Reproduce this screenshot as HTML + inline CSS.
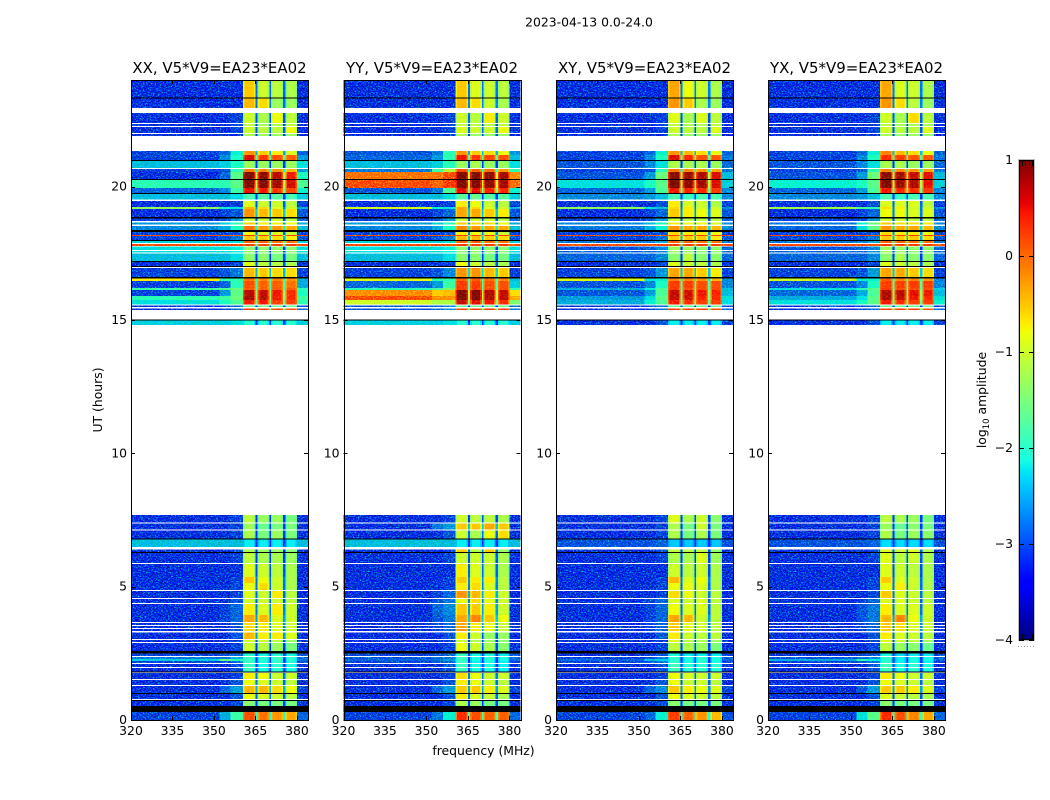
<!DOCTYPE html>
<html lang="en">
<head>
<meta charset="utf-8">
<title>2023-04-13 0.0-24.0</title>
<style>
  html,body{margin:0;padding:0;background:#fff;width:1050px;height:800px;overflow:hidden}
  svg{display:block}
  text{font-family:"DejaVu Sans","Liberation Sans",sans-serif;fill:#000}
  .tick{font-size:12.4px}
  .title{font-size:14.95px}
  .label{font-size:12.4px}
</style>
</head>
<body>
<svg id="chart" width="1050" height="800" viewBox="0 0 1050 800" xmlns="http://www.w3.org/2000/svg">
  <defs>
    <filter id="speckle" filterUnits="userSpaceOnUse" x="0" y="0" width="1050" height="800" color-interpolation-filters="sRGB">
      <feTurbulence type="fractalNoise" baseFrequency="0.6 0.8" numOctaves="2" seed="7" result="t"/>
      <feColorMatrix in="t" type="matrix" values="0 0 0 0 0  2.4 0 0 0 -1.12  0 0 0 0 0  0 0 0 0 1" result="g"/>
      <feColorMatrix in="t" type="matrix" values="0 0 0 0 1  0 0 0 0 1  0 -1.4 0 0 1.6  0 0 0 0 1" result="b"/>
      <feBlend in="SourceGraphic" in2="g" mode="screen" result="a"/>
      <feBlend in="a" in2="b" mode="multiply" result="c"/>
      <feComposite in="c" in2="SourceAlpha" operator="in"/>
    </filter>
    <filter id="speckle-soft" filterUnits="userSpaceOnUse" x="0" y="0" width="1050" height="800" color-interpolation-filters="sRGB">
      <feTurbulence type="fractalNoise" baseFrequency="0.5 0.7" numOctaves="2" seed="21" result="t"/>
      <feColorMatrix in="t" type="matrix" values="0 0 0 0 0  0.9 0 0 0 -0.42  0 0 0 0 0  0 0 0 0 1" result="g"/>
      <feBlend in="SourceGraphic" in2="g" mode="screen" result="a"/>
      <feComposite in="a" in2="SourceAlpha" operator="in"/>
    </filter>
    <linearGradient id="jet-gradient" x1="0" y1="1" x2="0" y2="0"></linearGradient>
  </defs>
  <rect x="0" y="0" width="1050" height="800" fill="#fff"/>
  <text x="589" y="26.5" text-anchor="middle" font-size="12.4">2023-04-13 0.0-24.0</text>
  <text class="label" text-anchor="middle" transform="translate(102,400) rotate(-90)">UT (hours)</text>
  <text class="label" x="483.5" y="755" text-anchor="middle">frequency (MHz)</text>
  <text class="label" text-anchor="middle" transform="translate(986,400) rotate(-90)">log<tspan font-size="8.5" dy="3">10</tspan><tspan dy="-3"> amplitude</tspan></text>
  <g id="panels"></g>
  <g id="colorbar"></g>
</svg>
<script>
// ---- chart data ----
const panelTitles = ["XX, V5*V9=EA23*EA02", "YY, V5*V9=EA23*EA02", "XY, V5*V9=EA23*EA02", "YX, V5*V9=EA23*EA02"];
const freqTicks = [320, 335, 350, 365, 380];
const hourTicks = [0, 5, 10, 15, 20];
const colorbarTicks = [1, 0, -1, -2, -3, -4];
// frequency boundaries in MHz: left, mid, ramp, band1, gap, band2, gap, band3, gap, band4, right
const freqEdges = [320, 352, 356, 360.5, 365, 365.8, 370, 370.6, 375, 375.8, 380, 384];
// UT hours [start, end] of every unflagged time range; gaps between these are blank (white)
const rowSpans = [[24,23.34],[23.31,22.95],[22.76,22.39],[22.35,22.28],[22.24,22.01],[21.98,21.9],[21.34,21.19],[21.19,21],[20.96,20.7],[20.66,20.55],[20.55,20.29],[20.25,19.95],[19.95,19.76],[19.73,19.52],[19.46,19.24],[19.24,19.16],[19.16,18.86],[18.81,18.71],[18.66,18.58],[18.53,18.38],[18.3,18.19],[18.19,18.15],[18.15,18],[17.96,17.89],[17.85,17.77],[17.76,17.63],[17.59,17.53],[17.49,17.21],[17.18,17.03],[16.95,16.61],[16.56,16.46],[16.46,16.2],[16.2,16.13],[16.13,15.9],[15.9,15.75],[15.75,15.58],[15.54,15.49],[15.43,15.38],[14.98,14.81],[7.69,7.41],[7.37,7.14],[7.11,6.81],[6.77,6.49],[6.39,6.3],[6.26,5.89],[5.85,5.36],[5.36,5.14],[5.14,4.88],[4.84,4.58],[4.54,4.39],[4.35,3.94],[3.94,3.68],[3.64,3.56],[3.53,3.45],[3.41,3.34],[3.28,3.04],[3,2.93],[2.89,2.59],[2.49,2.4],[2.36,2.29],[2.29,2.21],[2.21,2.14],[2.1,1.99],[1.95,1.82],[1.76,1.54],[1.5,1.31],[1.28,1.01],[0.98,0.79],[0.71,0.53],[0.3,0]];
// UT hours [start, end] of rows that are fully black
const blackSpans = [[23.34,23.31],[21,20.96],[20.29,20.25],[19.76,19.73],[18.86,18.81],[18.38,18.3],[18,17.96],[17.21,17.18],[17.03,16.99],[16.61,16.56],[15.02,14.98],[6.81,6.77],[6.3,6.26],[2.59,2.49],[1.82,1.78],[1.01,0.98],[0.75,0.71],[0.53,0.3]];
// log10 amplitude per row: [left, mid, ramp, band1, band2, band3, band4, right]
const xxLevels = [[-3.3,-3.3,-3.3,-.5,-1,-1.1,-1.2,-3.3],[-3.3,-3.3,-3.3,-.4,-.6,-1.3,-1.3,-3.3],[-3.3,-3.3,-3.2,-1,-1.2,-.8,-1.1,-3.3],[-3.3,-3.3,-3.2,-1.1,-1.2,-1.2,-1.1,-3.3],[-3.3,-3.3,-3.2,-1,-1.1,-1.1,-.8,-3.3],[-3.3,-3.3,-3.3,-1.2,-1.3,-1.3,-1.3,-3.3],[-3.2,-3,-2.2,-.2,-.5,-.7,-.9,-3],[-3.2,-2.8,-2.1,.6,.35,.2,.1,-2.7],[-2.5,-2.4,-2.1,-1.3,-1.3,-1.3,-1.3,-2.3],[-3.2,-3.1,-2,-.1,-.1,-.2,-.4,-2.7],[-3.3,-3,-1.7,1,.95,.75,.5,-2.1],[-2,-2,-1.7,1,1,.85,.65,-1.8],[-3,-2.8,-1.9,.55,.5,.35,.25,-2.2],[-2.5,-2.5,-2.3,-1.8,-1.7,-1.7,-1.8,-2.4],[-3.3,-3.3,-3.2,-.9,-1,-1,-1.1,-3.2],[-1.4,-2.2,-2.3,-.4,-.6,-.9,-1,-2.6],[-3.3,-3.2,-3.1,-.2,-.4,-.5,-.6,-3.1],[-3.2,-3.1,-2.7,-1,-1,-1,-1.1,-3],[-2.7,-2.4,-2,-.5,-.7,-.7,-.8,-2.6],[-2.8,-2.6,-2.1,0,-.2,-.2,-.3,-2.5],[-3.2,-3.2,-3.1,-.8,-.9,-.9,-1,-3.2],[.3,.3,.3,.3,.3,.3,.3,.3],[-3.2,-3.1,-2.9,-.5,-.5,-.6,-.7,-3.1],[-2.4,-2.4,-2.3,.1,.1,0,0,-2.4],[.3,.3,.3,.3,.3,.3,.3,.3],[-2.3,-2.3,-2.2,-1.4,-1.4,-1.4,-1.4,-2.3],[-2.3,-2.3,-2.2,-1.4,-1.4,-1.4,-1.4,-2.3],[-2.5,-2.5,-2.3,-1.4,-1.4,-1.5,-1.5,-2.5],[-3.3,-3.3,-3.2,-.9,-1.1,-1.1,-1.2,-3.3],[-3.2,-3.1,-2.9,-.4,-.5,-.6,-.6,-3.2],[-.7,-2,-2,0,-.1,-.1,-.2,-2.6],[-3.2,-3,-2,.2,.1,.1,0,-2.6],[-1.9,-1.8,-1.6,.1,.1,.1,.1,-2],[-3.2,-2.7,-1.7,.75,.7,.5,.4,-2.1],[-2,-1.9,-1.6,.85,.75,.5,.4,-1.9],[-2.3,-2.1,-1.8,.5,.5,.3,.3,-2],[-3.3,-3.2,-3,-1.6,-1.6,-1.6,-1.6,-3.2],[-3.3,-3.2,-3,.3,.3,.3,.2,-3],[-2.4,-2.4,-2.3,-2,-2,-2,-2,-2.4],[-3.3,-3.3,-3.2,-1.1,-1.3,-1.3,-1.5,-3.3],[-3.3,-3.3,-3.2,-1.3,-1.6,-1.5,-1.5,-3.3],[-3.3,-3.3,-3.2,-1.2,-1.5,-1.3,-1.5,-3.3],[-2.5,-2.5,-2.5,-2.2,-2.2,-2.2,-2.2,-2.5],[-3.3,-3.3,-3.2,-1.2,-1.3,-1.3,-1.4,-3.3],[-3.3,-3.3,-3.2,-1.1,-1.2,-1.2,-1.3,-3.3],[-3.3,-3.3,-3.3,-.9,-1,-1.1,-1.2,-3.3],[-3.3,-3.3,-3.2,-.5,-.8,-1,-1.2,-3.3],[-3.3,-3.3,-3.2,-.8,-.6,-1,-1.2,-3.3],[-3.3,-3.3,-3.2,-.9,-1,-.7,-1.1,-3.3],[-3.3,-3.3,-3.1,-1,-1,-1,-1.1,-3.3],[-3.3,-3.2,-3,-.7,-.9,-.7,-1,-3.3],[-3.3,-3.2,-3,-.3,-.4,-.9,-1,-3.3],[-3.3,-3.3,-3.1,-.6,-.7,-.9,-1,-3.3],[-3.3,-3.3,-3.1,-.6,-.7,-.9,-1,-3.3],[-3.3,-3.3,-3.1,-.6,-.7,-.9,-1,-3.3],[-3.3,-3.3,-3.1,-.4,-.7,-.7,-.9,-3.3],[-3.3,-3.3,-3.2,-.9,-1,-1.1,-1.3,-3.3],[-3.3,-3.3,-3.2,-1,-1.1,-1.3,-1.5,-3.3],[-3.2,-3.1,-3,-2,-2.1,-2,-2.1,-3.1],[-2.9,-2.9,-2.6,-1.9,-2,-1.9,-2,-3],[-2.4,-1.6,-2,-1.9,-2,-1.9,-2,-2.9],[-3.2,-3.1,-3,-1.9,-2.1,-2,-2.1,-3.2],[-3.3,-3.3,-3.1,-1.9,-2.1,-2,-2.1,-3.3],[-3.3,-3.3,-3.1,-1.9,-2.1,-2,-2.1,-3.3],[-3.3,-3.3,-3.2,-.7,-.8,-1,-1,-3.3],[-3.3,-3.3,-3.1,-.8,-.9,-1,-1.1,-3.3],[-3.3,-3,-2.7,-.4,-.4,-.6,-.8,-3.2],[-3.3,-3.3,-3.1,-.8,-.9,-1,-1.1,-3.3],[-3.3,-3.3,-3.2,-1.4,-1.5,-1.5,-1.5,-3.3],[-3.2,-2.6,-1.9,.2,0,-.2,-.3,-3]];
const yyLevels = [[-3.3,-3.3,-3.3,-.5,-.9,-1,-1.1,-3.3],[-3.3,-3.3,-3.3,-.4,-.6,-1,-1.2,-3.3],[-3.3,-3.3,-3.2,-1,-1.1,-.7,-1,-3.3],[-3.3,-3.3,-3.2,-1.1,-1.1,-1.1,-1.1,-3.3],[-3.3,-3.3,-3.2,-.9,-1,-1,-.8,-3.3],[-3.3,-3.3,-3.3,-1.2,-1.3,-1.3,-1.3,-3.3],[-3.1,-2.9,-2,-.2,-.5,-.6,-.8,-2.7],[-3,-2.7,-2,.5,.35,.25,.2,-2.5],[-2.5,-2.4,-2,-1.3,-1.2,-1.3,-1.3,-2.3],[-2.9,-1.9,-1.2,.2,.1,0,-.2,-2],[.05,.05,.3,1,1,.95,.85,-.1],[.3,.15,.4,1,1,.95,.85,.1],[-3.1,-2.9,-1.8,.55,.55,.45,.45,-2.2],[-2.5,-2.5,-2.3,-1.7,-1.6,-1.7,-1.7,-2.4],[-3.3,-3.3,-3.2,-.7,-.8,-1,-1.1,-3.2],[-1,-2.2,-2.3,-.3,-.6,-.9,-1,-2.6],[-3.3,-3.2,-3,-.3,-.3,-.5,-.7,-3.1],[-3.2,-3.1,-2.7,-1,-1,-1,-1.1,-3],[-2.7,-2.4,-2,-.5,-.6,-.6,-.8,-2.6],[-2.8,-2.6,-2.1,-.1,-.2,-.3,-.3,-2.5],[-3.2,-3.2,-3.1,-.7,-.8,-.8,-1,-3.2],[.3,.3,.3,.3,.3,.3,.3,.3],[-3.2,-3.1,-2.9,-.4,-.4,-.5,-.6,-3.1],[-2.4,-2.4,-2.3,.1,.1,0,0,-2.4],[.3,.3,.3,.3,.3,.3,.3,.3],[-2.3,-2.3,-2.2,-1.4,-1.4,-1.4,-1.4,-2.3],[-2.3,-2.3,-2.2,-1.4,-1.4,-1.4,-1.4,-2.3],[-2.5,-2.5,-2.3,-1.4,-1.4,-1.5,-1.5,-2.5],[-3.3,-3.3,-3.2,-.8,-1,-1.1,-1.2,-3.3],[-3.2,-3.1,-2.8,-.2,-.2,-.4,-.5,-3.2],[-.9,-2,-2,.1,.1,0,-.1,-2.5],[-3,-2.7,-1.9,.3,.3,.2,.2,-2.4],[-2,-1.8,-1.5,.3,.3,.2,.2,-1.9],[-.1,-.5,-.4,1,1,.8,.7,-.6],[.3,-.1,-.1,1,1,.8,.7,-.3],[-1,-1.2,-1.2,.7,.6,.5,.4,-1.5],[-3.1,-3,-2.8,-1.6,-1.6,-1.6,-1.6,-3],[-3.1,-3,-2.8,.3,.3,.3,.3,-2.9],[-2.4,-2.4,-2.3,-2,-2,-2,-2,-2.4],[-3.3,-3.3,-3.2,-1,-1.1,-1.1,-1.2,-3.3],[-3.3,-2.9,-2.7,-.5,-.5,-.3,-.5,-3.3],[-3.3,-3.3,-3.1,-1,-1.2,-.8,-.6,-3.3],[-2.5,-2.5,-2.5,-2.2,-2.2,-2.2,-2.2,-2.5],[-3.3,-3.3,-3.2,-.5,-1.2,-.5,-1.3,-3.3],[-3.3,-3.3,-3.2,-1,-1,-1,-1.2,-3.3],[-3.3,-3.3,-3.3,-.7,-.9,-1,-1.2,-3.3],[-3.3,-3.3,-3.2,-.5,-.7,-.7,-1.1,-3.3],[-3.3,-3.3,-3.2,-.7,-.6,-.9,-1.1,-3.3],[-3.3,-3.2,-3,-.2,-.4,-.7,-1,-3.3],[-3.3,-3.1,-2.9,-.8,-.6,-.8,-1,-3.3],[-3.3,-3,-2.8,-.5,-.5,-.7,-1,-3.3],[-3.3,-3.1,-2.9,-.3,-.1,-.5,-.8,-3.3],[-3.3,-3.2,-3,-.3,-.7,-.8,-1,-3.3],[-3.3,-3.2,-3,-.3,-.7,-.8,-1,-3.3],[-3.3,-3.2,-3,-.2,-.7,-.8,-1,-3.3],[-3.3,-3.3,-3.1,-.7,-1,-1.3,-1.3,-3.3],[-3.3,-3.3,-3.2,-1,-1.2,-1.3,-1.4,-3.3],[-3.3,-3.3,-3.2,-.8,-1,-1.2,-1.4,-3.3],[-3.2,-3.1,-3,-1.9,-2.1,-2.1,-2.2,-3.1],[-3.1,-3,-2.9,-1.9,-2.1,-2,-2.1,-3],[-3,-2.9,-2.7,-1.9,-2.1,-2,-2.1,-3],[-3.2,-3.1,-3,-1.9,-2.2,-2.1,-2.2,-3.2],[-3.3,-3.3,-3.1,-1.9,-2.1,-2.1,-2.2,-3.3],[-3.3,-3.3,-3.1,-1.9,-2.1,-2.1,-2.2,-3.3],[-3.3,-3.3,-3.2,-.6,-.8,-1,-1,-3.3],[-3.3,-3.3,-3.1,-.7,-.8,-1,-1.1,-3.3],[-3.3,-3,-2.7,-.5,-.5,-.7,-.9,-3.2],[-3.3,-3.3,-3.1,-.7,-.9,-1,-1.2,-3.3],[-3.3,-3.3,-3.2,-1.2,-1.3,-1.5,-1.5,-3.3],[-3.2,-2.9,-2.2,.4,.2,.1,.1,-3]];
const xyLevels = [[-3.3,-3.3,-3.3,-.3,-.8,-1,-1.2,-3.3],[-3.3,-3.3,-3.3,-.2,-.5,-1.2,-1.3,-3.3],[-3.3,-3.3,-3.2,-.9,-1.2,-.9,-1.1,-3.3],[-3.3,-3.3,-3.2,-1.1,-1.2,-1.2,-1.1,-3.3],[-3.3,-3.3,-3.2,-1,-1.1,-1.1,-.9,-3.3],[-3.3,-3.3,-3.3,-1.2,-1.3,-1.3,-1.3,-3.3],[-3.2,-3,-2.2,-.2,-.4,-.6,-.8,-3],[-3.2,-2.8,-2.1,.6,.4,.2,.15,-2.9],[-3.1,-2.8,-2.3,-1.2,-1.2,-1.2,-1.3,-3],[-3.2,-3.1,-2,0,-.1,-.2,-.3,-2.9],[-3.1,-2.7,-1.6,.95,.9,.8,.6,-2.5],[-2.3,-2.1,-1.7,1,.95,.85,.6,-2.4],[-3,-2.7,-1.8,.5,.45,.4,.3,-2.8],[-2.8,-2.7,-2.5,-1.8,-1.9,-1.8,-1.8,-2.8],[-3.3,-3.3,-3.1,-.7,-.9,-1,-1.2,-3.2],[-1.4,-2.3,-2.5,-.6,-.7,-1,-1,-2.8],[-3.3,-3.2,-3,-.5,-.7,-.8,-.9,-3.1],[-3.2,-3.1,-2.7,-1,-1.1,-1.1,-1.1,-3],[-2.8,-2.5,-2.1,-.7,-.8,-.8,-.9,-2.8],[-2.9,-2.6,-2.2,-.2,-.3,-.3,-.4,-2.8],[-3.2,-3.2,-3.1,-.6,-.7,-.7,-.8,-3.2],[.3,.3,.3,.3,.3,.3,.3,.3],[-3.2,-3.1,-2.9,-.5,-.5,-.5,-.7,-3.1],[-2.9,-2.8,-2.6,.1,.1,0,0,-2.9],[.3,.3,.3,.3,.3,.3,.3,.3],[-3.1,-3,-2.8,-1.3,-1.3,-1.4,-1.4,-3],[-3,-3,-2.8,-1.3,-1.3,-1.4,-1.4,-3],[-3,-3,-2.8,-1.4,-1.1,-1.4,-1.4,-3],[-3.3,-3.3,-3.2,-.9,-1,-1.1,-1.2,-3.3],[-3.2,-3.1,-2.7,-.3,-.3,-.5,-.7,-3.2],[-.9,-2.3,-2.2,-.1,-.1,-.2,-.4,-2.8],[-3.1,-2.8,-2.1,.3,.3,.2,.2,-2.8],[-2.6,-2.2,-1.8,.3,.2,.2,.2,-2.5],[-3.1,-2.7,-1.8,.7,.65,.5,.45,-2.5],[-2.7,-2.3,-1.7,.7,.65,.45,.4,-2.3],[-2.6,-2.2,-1.8,.5,.4,.3,.3,-2.3],[-3.3,-3.2,-3,-1.6,-1.6,-1.6,-1.6,-3.2],[-3.3,-3.2,-3,.3,.3,.3,.2,-3],[-3.3,-3.3,-3.1,-2.2,-2.2,-2.2,-2.2,-3.2],[-3.3,-3.3,-3.2,-.9,-1.2,-1,-1.4,-3.3],[-3.3,-3.3,-3.2,-1.2,-1.5,-1,-1.5,-3.3],[-3.3,-3.3,-3.2,-1.2,-1.5,-1.2,-1.5,-3.3],[-3.1,-3.1,-3,-2.4,-2.4,-2.4,-2.4,-3.1],[-3.3,-3.3,-3.2,-1.1,-1.1,-1.1,-1.4,-3.3],[-3.3,-3.3,-3.2,-1.2,-1.2,-.9,-1.3,-3.3],[-3.3,-3.3,-3.3,-1,-1.1,-1,-1.2,-3.3],[-3.3,-3.3,-3.2,-.4,-.9,-.8,-1.2,-3.3],[-3.3,-3.3,-3.2,-.8,-.8,-.9,-1.2,-3.3],[-3.3,-3.3,-3.2,-.6,-.8,-1,-1.1,-3.3],[-3.3,-3.2,-3,-.9,-1,-.9,-1.1,-3.3],[-3.3,-3.2,-3,-.8,-.9,-.9,-1.1,-3.3],[-3.3,-3.2,-3,-.3,-.4,-1,-1.1,-3.3],[-3.3,-3.2,-3,-.5,-.8,-1,-1.1,-3.3],[-3.3,-3.2,-3,-.5,-.8,-1,-1.1,-3.3],[-3.3,-3.2,-3,-.5,-.8,-1,-1.1,-3.3],[-3.3,-3.3,-3.1,-.7,-1,-1.1,-1.1,-3.3],[-3.3,-3.3,-3.2,-.9,-1.1,-1.2,-1.3,-3.3],[-3.3,-3.3,-3.2,-1.1,-1.2,-1.3,-1.5,-3.3],[-3.3,-3.2,-3.1,-2.1,-2.2,-2.2,-2.2,-3.2],[-3.2,-3.1,-2.9,-2,-2.1,-2,-2.1,-3.1],[-3,-2.5,-2.4,-2,-2.1,-2,-2.1,-3],[-3.2,-3.1,-2.9,-2,-2.1,-2,-2.1,-3.2],[-3.3,-3.3,-3.1,-1.9,-2,-2,-2,-3.3],[-3.3,-3.3,-3.1,-1.9,-2,-2,-2,-3.3],[-3.3,-3.3,-3.2,-.8,-.9,-1,-1,-3.3],[-3.3,-3.3,-3.1,-.8,-1,-1,-1.1,-3.3],[-3.3,-3,-2.8,-.5,-.7,-.8,-.9,-3.2],[-3.3,-3.3,-3.1,-.8,-.9,-1,-1.1,-3.3],[-3.3,-3.3,-3.2,-1.4,-1.5,-1.5,-1.5,-3.3],[-3.2,-3,-2.2,.3,.1,-.2,-.4,-3.1]];
const yxLevels = [[-3.3,-3.3,-3.3,-.3,-.9,-1,-1.2,-3.3],[-3.3,-3.3,-3.3,-.2,-.6,-1.1,-1.3,-3.3],[-3.3,-3.3,-3.2,-1,-1.2,-.6,-1.1,-3.3],[-3.3,-3.3,-3.2,-1.1,-1.2,-1.2,-1.2,-3.3],[-3.3,-3.3,-3.2,-1,-1.1,-1.1,-.9,-3.3],[-3.3,-3.3,-3.3,-1.2,-1.3,-1.3,-1.3,-3.3],[-3.2,-3,-2.2,-.1,-.4,-.6,-.8,-3],[-3.2,-2.8,-2.1,.4,.3,.2,.15,-2.9],[-3.1,-2.8,-2.3,-1.2,-1.2,-1.3,-1.3,-3],[-3.2,-3.1,-2,-.1,-.1,-.2,-.3,-2.9],[-3.1,-2.7,-1.6,.95,.85,.7,.55,-2.5],[-2.2,-2.1,-1.7,1,.9,.8,.55,-2.4],[-3,-2.7,-1.8,.5,.45,.4,.3,-2.8],[-2.8,-2.7,-2.5,-1.8,-1.9,-1.8,-1.8,-2.8],[-3.3,-3.3,-3.1,-.9,-.9,-.9,-1.1,-3.2],[-1.3,-1.8,-2,-.6,-.7,-1,-1,-2.8],[-3.3,-3.2,-3,-.8,-.8,-.9,-.9,-3.1],[-3.2,-3.1,-2.7,-1,-1,-1.1,-1.1,-3],[-2.9,-2.2,-1.6,-.5,-.6,-.6,-.7,-2.8],[-3,-2.3,-1.7,-.2,-.3,-.3,-.4,-2.8],[-3.2,-3.2,-3.1,-.6,-.7,-.7,-.8,-3.2],[.3,.3,.3,.3,.3,.3,.3,.3],[-3.2,-3.1,-2.9,-.5,-.5,-.5,-.6,-3.1],[-2.9,-2.8,-2.6,.1,.1,0,0,-2.9],[.3,.3,.3,.3,.3,.3,.3,.3],[-3.1,-3,-2.8,-1.3,-1.3,-1.4,-1.4,-3],[-3,-3,-2.8,-1.3,-1.3,-1.4,-1.4,-3],[-3,-3,-2.8,-1.4,-1.2,-1.4,-1.4,-3],[-3.3,-3.3,-3.2,-.9,-1,-1.1,-1.2,-3.3],[-3.2,-3.1,-2.7,-.3,-.3,-.5,-.6,-3.2],[-1,-2.2,-2.2,.1,-.1,-.1,-.2,-2.8],[-3.1,-2.8,-2.1,.3,.3,.3,.3,-2.8],[-2.3,-2,-1.7,.3,.2,.2,.2,-2.4],[-3,-2.6,-1.8,.8,.75,.55,.5,-2.5],[-2.6,-2.3,-1.7,.8,.7,.5,.4,-2.3],[-2.3,-2.1,-1.7,.5,.4,.3,.3,-2.2],[-3.3,-3.2,-3,-1.6,-1.6,-1.6,-1.6,-3.2],[-3.3,-3.2,-3,.3,.3,.3,.2,-3],[-3.3,-3.3,-3.1,-2.2,-2.2,-2.2,-2.2,-3.2],[-3.3,-3.3,-3.2,-1.1,-1.2,-1.3,-1.5,-3.3],[-3.3,-3.3,-3.2,-1.3,-1.6,-1.4,-1.5,-3.3],[-3.3,-3.3,-3.2,-1.2,-1.5,-1.3,-1.4,-3.3],[-3.1,-3.1,-3,-2.3,-2.3,-2.3,-2.3,-3.1],[-3.3,-3.3,-3.2,-.9,-1,-.9,-1.2,-3.3],[-3.3,-3.3,-3.2,-.9,-1.1,-1,-1.2,-3.3],[-3.3,-3.3,-3.3,-.9,-1,-1.1,-1.2,-3.3],[-3.3,-3.3,-3.2,-.5,-.9,-1,-1.2,-3.3],[-3.3,-3.3,-3.2,-.8,-.7,-1,-1.2,-3.3],[-3.3,-3.3,-3.2,-.5,-.9,-1,-1.1,-3.3],[-3.3,-3.2,-3,-.9,-.9,-1,-1.1,-3.3],[-3.3,-3.1,-2.9,-.7,-.9,-.9,-1,-3.3],[-3.3,-3.1,-2.9,-.4,-.1,-.8,-1,-3.3],[-3.3,-3.2,-3,-.5,-.6,-.9,-1,-3.3],[-3.3,-3.2,-3,-.5,-.6,-.9,-1,-3.3],[-3.3,-3.2,-3,-.5,-.6,-.9,-1,-3.3],[-3.3,-3.3,-3.1,-.7,-.9,-1,-1.1,-3.3],[-3.3,-3.3,-3.2,-.9,-1,-1.1,-1.3,-3.3],[-3.3,-3.3,-3.2,-1.1,-1.3,-1.4,-1.6,-3.3],[-3.3,-3.2,-3.1,-2.1,-2.3,-2.2,-2.2,-3.2],[-3.1,-3,-2.8,-2,-2.2,-2.1,-2.1,-3.1],[-2.6,-2,-2.2,-2,-2.2,-2.1,-2.1,-3],[-3.2,-3.1,-2.9,-2,-2.2,-2.1,-2.2,-3.2],[-3.3,-3.3,-3.1,-1.9,-2.1,-2,-2.1,-3.3],[-3.3,-3.3,-3.1,-1.9,-2.1,-2,-2.1,-3.3],[-3.3,-3.3,-3.2,-.7,-.8,-1,-1,-3.3],[-3.3,-3.3,-3.1,-.8,-.9,-1,-1.1,-3.3],[-3.3,-3.1,-2.7,-.5,-.5,-.7,-.9,-3.2],[-3.3,-3.3,-3.1,-.9,-1,-1.1,-1.2,-3.3],[-3.3,-3.3,-3.2,-1.4,-1.5,-1.5,-1.5,-3.3],[-3.2,-2.3,-1.7,.4,.2,-.1,-.3,-3]];

// ---- layout ----
const panelLefts = [131, 343.5, 556, 768];
const panelLevels = [xxLevels, yyLevels, xyLevels, yxLevels];
const panelKeys = ["xx", "yy", "xy", "yx"];
const W = 177, TOP = 80, BOTTOM = 720;
const NS = "http://www.w3.org/2000/svg";

function el(tag, attrs, parent) {
  const n = document.createElementNS(NS, tag);
  for (const k in attrs) n.setAttribute(k, attrs[k]);
  parent.appendChild(n);
  return n;
}
function xScale(left, f) { return left + (f - 320) / 64 * W; }
function yScale(h) { return BOTTOM - h / 24 * (BOTTOM - TOP); }
function lerpJet(x, pts) {
  for (let i = 1; i < pts.length; i++) {
    if (x <= pts[i][0]) {
      const a = pts[i - 1], b = pts[i];
      return a[1] + (b[1] - a[1]) * (x - a[0]) / (b[0] - a[0]);
    }
  }
  return pts[pts.length - 1][1];
}
const jetR = [[0,0],[.35,0],[.66,1],[.89,1],[1,.5]];
const jetG = [[0,0],[.125,0],[.375,1],[.64,1],[.91,0],[1,0]];
const jetB = [[0,.5],[.11,1],[.34,1],[.65,0],[1,0]];
function jet(x) {
  const v = Math.max(0, Math.min(1, x));
  const c = [jetR, jetG, jetB].map(p => Math.round(255 * lerpJet(v, p)));
  return "rgb(" + c.join(",") + ")";
}
function colorScale(level) { return jet((level + 4) / 5); }

function addCell(group, left, f0, f1, h0, h1, level) {
  const r = el("rect", {
    x: xScale(left, f0).toFixed(2),
    y: yScale(h0).toFixed(2),
    width: (xScale(left, f1) - xScale(left, f0)).toFixed(2),
    height: (yScale(h1) - yScale(h0)).toFixed(2),
    fill: colorScale(level)
  }, group);
  
  
  return r;
}

const panelsRoot = document.getElementById("panels");
panelTitles.forEach((title, p) => {
  const left = panelLefts[p];
  const levels = panelLevels[p];
  const key = panelKeys[p];

  const panel = el("g", {}, panelsRoot);
  
  

  const bg = el("g", { filter: "url(#speckle)", "shape-rendering": "crispEdges" }, panel);
  
  

  const bands = el("g", { filter: "url(#speckle-soft)", "shape-rendering": "crispEdges" }, panel);
  
  

  rowSpans.forEach((span, i) => {
    const lv = levels[i];
    if (!lv) return;
    const h0 = span[0], h1 = span[1];
    const bandMean = (lv[3] + lv[4] + lv[5] + lv[6]) / 4;
    const gap = Math.max(-3.2, bandMean - 2);
    addCell(bg, left, freqEdges[0], freqEdges[1], h0, h1, lv[0]);
    addCell(bg, left, freqEdges[1], freqEdges[2], h0, h1, lv[1]);
    addCell(bg, left, freqEdges[2], freqEdges[3], h0, h1, lv[2]);
    [[3, 4, 3], [5, 6, 4], [7, 8, 5], [9, 10, 6]].forEach(b => {
      const f0 = freqEdges[b[0]], f1 = freqEdges[b[1]], v = lv[b[2]];
      const rim = v > 0.3 ? v - 0.5 : v - 0.25;
      addCell(bands, left, f0, f0 + 0.6, h0, h1, rim);
      addCell(bands, left, f0 + 0.6, f1 - 0.6, h0, h1, v);
      addCell(bands, left, f1 - 0.6, f1, h0, h1, rim);
    });
    addCell(bands, left, freqEdges[4], freqEdges[5], h0, h1, gap);
    addCell(bands, left, freqEdges[6], freqEdges[7], h0, h1, gap);
    addCell(bands, left, freqEdges[8], freqEdges[9], h0, h1, gap);
    addCell(bg, left, freqEdges[10], freqEdges[11], h0, h1, lv[7]);
  });

  const blacks = el("g", { "shape-rendering": "crispEdges" }, panel);
  
  
  blackSpans.forEach(s => {
    const r = el("rect", {
      x: left,
      y: yScale(s[0]).toFixed(2),
      width: W,
      height: (yScale(s[1]) - yScale(s[0])).toFixed(2),
      fill: "#000"
    }, blacks);
    
    
  });

  const frame = el("rect", { x: Math.round(left) + 0.5 - 1 + 1, y: TOP + 0.5, width: W, height: BOTTOM - TOP, fill: "none", stroke: "#000", "stroke-width": 1, "shape-rendering": "crispEdges" }, panel);
  
  

  const t = el("text", { x: left + W / 2, y: 73, "text-anchor": "middle", class: "title" }, panel);
  t.textContent = title;
  
  

  freqTicks.forEach(f => {
    const x = Math.round(xScale(left, f)) + 0.5;
    const d = el("path", { d: "M" + x + " " + BOTTOM + "v-4M" + x + " " + TOP + "v4", stroke: "#000", fill: "none", "shape-rendering": "crispEdges" }, panel);
    
    
    const l = el("text", { x: xScale(left, f), y: 735, "text-anchor": "middle", class: "tick" }, panel);
    l.textContent = f;
    
    
  });
  hourTicks.forEach(h => {
    const y = Math.round(yScale(h)) + 0.5;
    const d = el("path", { d: "M" + left + " " + y + "h4M" + (left + W) + " " + y + "h-4", stroke: "#000", fill: "none", "shape-rendering": "crispEdges" }, panel);
    
    
    const l = el("text", { x: left - 4, y: yScale(h) + 4, "text-anchor": "end", class: "tick" }, panel);
    l.textContent = h;
    
    
  });
});

// ---- colorbar ----
const CB_L = 1019, CB_R = 1034, CB_T = 160, CB_B = 640;
function cbScale(v) { return CB_B - (v + 4) / 5 * (CB_B - CB_T); }
const grad = document.getElementById("jet-gradient");
[0, .11, .125, .34, .35, .375, .64, .65, .66, .89, .91, 1].forEach(s => {
  const st = el("stop", { offset: s, "stop-color": jet(s) }, grad);
  
  
});
const cb = document.getElementById("colorbar");
const halo = el("rect", { x: CB_L - 0.5, y: CB_T - 0.5, width: CB_R - CB_L + 1, height: CB_B - CB_T + 1, fill: "none", stroke: "#bdbdbd", "shape-rendering": "crispEdges" }, cb);


const cbFill = el("rect", { x: CB_L, y: CB_T, width: CB_R - CB_L, height: CB_B - CB_T, fill: "url(#jet-gradient)" }, cb);


const cbFrame = el("rect", { x: CB_L + 0.5, y: CB_T + 0.5, width: CB_R - CB_L - 1, height: CB_B - CB_T - 1, fill: "none", stroke: "#000", "shape-rendering": "crispEdges" }, cb);


colorbarTicks.forEach(v => {
  const y = Math.round(cbScale(v)) + 0.5;
  const d = el("path", { d: "M" + CB_L + " " + y + "h5M" + CB_R + " " + y + "h-5", stroke: "#000", fill: "none", "shape-rendering": "crispEdges" }, cb);
  
  
  const l = el("text", { x: 1013, y: cbScale(v) + 4, "text-anchor": "end", class: "tick" }, cb);
  l.textContent = v < 0 ? "\u2212" + Math.abs(v) : String(v);
  
  
});
[1022.5, 1025.5, 1029.5, 1032.5].forEach(x => {
  const m = el("path", { d: "M" + x + " " + CB_T + "v6M" + x + " " + CB_B + "v-6", stroke: "#000", fill: "none", "shape-rendering": "crispEdges" }, cb);
  
  
});
[1018, 1021, 1024, 1027, 1030, 1033].forEach(x => {
  const dot = el("rect", { x: x, y: 646, width: 1, height: 1, fill: "#999" }, cb);
  
  
});
</script>
</body>
</html>
